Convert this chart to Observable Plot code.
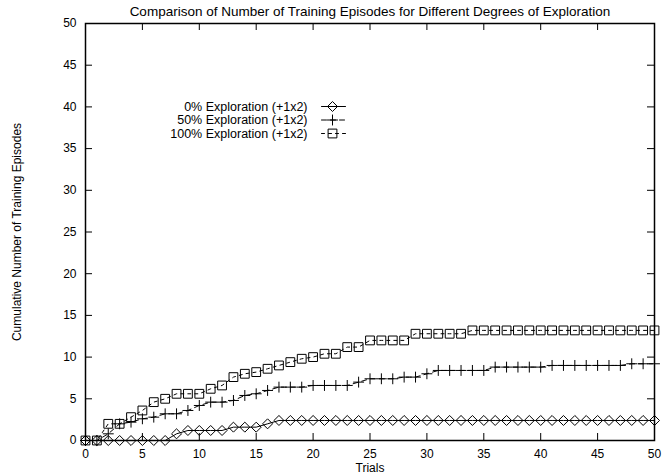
<!DOCTYPE html>
<html><head><meta charset="utf-8">
<script src="https://cdn.jsdelivr.net/npm/d3@7"></script>
<script src="https://cdn.jsdelivr.net/npm/@observablehq/plot@0.6"></script>
<style>
body{margin:0;background:#fff;}
#chart svg{display:block;}
</style></head><body><div id="chart"></div>
<script>
const trials = [0,1,2,3,4,5,6,7,8,9,10,11,12,13,14,15,16,17,18,19,20,21,22,23,24,25,26,27,28,29,30,31,32,33,34,35,36,37,38,39,40,41,42,43,44,45,46,47,48,49,50];
const explore0 = [0,0,0,0,0,0,0,0,0.8,1.2,1.2,1.2,1.2,1.6,1.6,1.6,2.0,2.4,2.4,2.4,2.4,2.4,2.4,2.4,2.4,2.4,2.4,2.4,2.4,2.4,2.4,2.4,2.4,2.4,2.4,2.4,2.4,2.4,2.4,2.4,2.4,2.4,2.4,2.4,2.4,2.4,2.4,2.4,2.4,2.4,2.4];
const explore50 = [0,0,0.8,2.0,2.2,2.6,2.8,3.2,3.2,3.6,4.2,4.6,4.6,4.8,5.4,5.6,6.0,6.4,6.4,6.4,6.6,6.6,6.6,6.6,7.0,7.4,7.4,7.4,7.6,7.6,8.0,8.4,8.4,8.4,8.4,8.4,8.8,8.8,8.8,8.8,8.8,9.0,9.0,9.0,9.0,9.0,9.0,9.0,9.2,9.2,9.2];
const explore100 = [0,0,2.0,2.0,2.8,3.6,4.6,5.0,5.6,5.6,5.6,6.2,6.6,7.6,8.0,8.2,8.6,9.0,9.4,9.8,10.0,10.4,10.4,11.2,11.2,12.0,12.0,12.0,12.0,12.8,12.8,12.8,12.8,12.8,13.2,13.2,13.2,13.2,13.2,13.2,13.2,13.2,13.2,13.2,13.2,13.2,13.2,13.2,13.2,13.2,13.2];
const seriesLabels = ["0% Exploration (+1x2)", "50% Exploration (+1x2)", "100% Exploration (+1x2)"];
const xTicks = [0,5,10,15,20,25,30,35,40,45,50];
const yTicks = [0,5,10,15,20,25,30,35,40,45,50];
const titleText = "Comparison of Number of Training Episodes for Different Degrees of Exploration";
const xLabel = "Trials";
const yLabel = "Cumulative Number of Training Episodes";

const seriesValues = [explore0, explore50, explore100];
const symbols = ["diamond2", "plus", "square2"];
const dashes = [undefined, "5,4", "3,4"];
const radii = [4.5, 3.6, 5.6];

const W = 669, H = 476, mL = 85, mR = 15, mT = 23, mB = 36;
const fw = W - mL - mR, fh = H - mT - mB, tick = 7;

const hline = {draw(context, l) { context.moveTo(0, 0); context.lineTo(l, 0); }};

const marks = [];
seriesValues.forEach((vals, s) => {
  const rows = vals.map((v, i) => ({trial: trials[i], value: v}));
  marks.push(Plot.line(rows, {x: "trial", y: "value", stroke: "black", strokeWidth: 1, strokeDasharray: dashes[s]}));
  marks.push(Plot.dot(rows, {x: "trial", y: "value", symbol: symbols[s], r: radii[s], stroke: "black", fill: "none", strokeWidth: 1}));
});
// legend
seriesLabels.forEach((lab, s) => {
  const dy = 83 + s * 13.5;
  marks.push(Plot.text([lab], {frameAnchor: "top-left", dx: 222, dy, textAnchor: "end", lineAnchor: "middle", fill: "black", fontSize: 12.5}));
  marks.push(Plot.vector([0], {frameAnchor: "top-left", dx: 236, dy, length: 24, rotate: 0, anchor: "start", shape: hline, stroke: "black", fill: "none", strokeWidth: 1, strokeDasharray: dashes[s]}));
  marks.push(Plot.dot([0], {frameAnchor: "top-left", dx: 247, dy, symbol: symbols[s], r: radii[s], stroke: "black", fill: "none", strokeWidth: 1}));
});

const chart = Plot.plot({
  width: W, height: H,
  marginLeft: mL, marginRight: mR, marginTop: mT, marginBottom: mB,
  style: {fontFamily: "'Liberation Sans', Arial, sans-serif", fontSize: "12px", color: "black", background: "white"},
  x: {domain: [0, 50]},
  y: {domain: [0, 50]},
  marks: [
    Plot.axisX({ticks: xTicks, tickSize: 0, tickPadding: 9, label: null}),
    Plot.axisY({ticks: yTicks, tickSize: 0, tickPadding: 9, label: null}),
    Plot.tickX(xTicks, {x: d => d, insetTop: fh - tick, stroke: "black"}),
    Plot.tickX(xTicks, {x: d => d, insetBottom: fh - tick, stroke: "black"}),
    Plot.tickY(yTicks, {y: d => d, insetRight: fw - tick, stroke: "black"}),
    Plot.tickY(yTicks, {y: d => d, insetLeft: fw - tick, stroke: "black"}),
    ...marks,
    Plot.frame({stroke: "black", strokeWidth: 1.5}),
    Plot.text([titleText], {frameAnchor: "top", dy: -12, lineAnchor: "middle", fill: "black", fontSize: 13.5}),
    Plot.text([xLabel], {frameAnchor: "bottom", dy: 28, lineAnchor: "middle", fill: "black"}),
    Plot.text([yLabel], {frameAnchor: "left", dx: -68, rotate: -90, lineAnchor: "middle", textAnchor: "middle", fill: "black"})
  ]
});
document.getElementById("chart").appendChild(chart);
</script></body></html>
